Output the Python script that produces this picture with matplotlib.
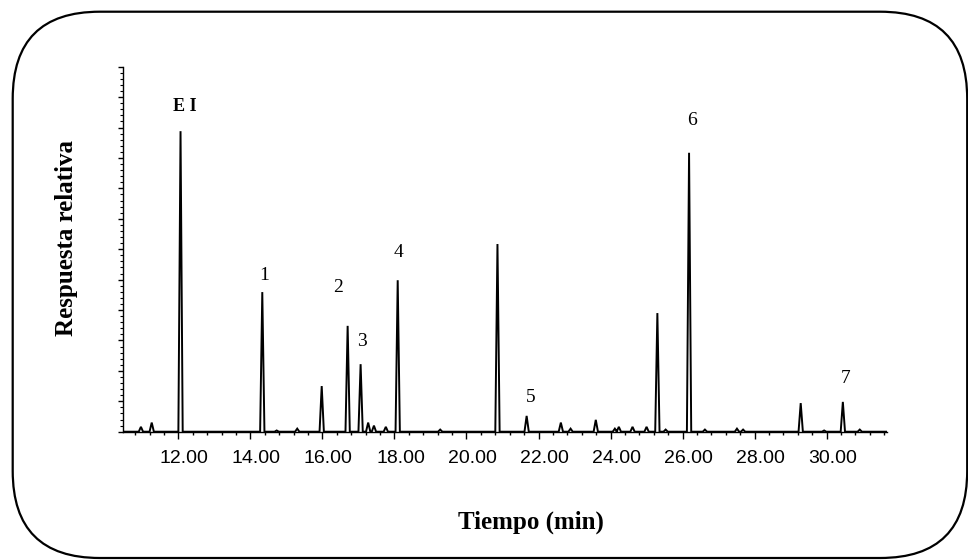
import matplotlib
matplotlib.use("Agg")
import matplotlib.pyplot as plt
import matplotlib.transforms as mtransforms
from matplotlib.patches import FancyBboxPatch
from matplotlib.ticker import MultipleLocator, FormatStrFormatter, NullFormatter

# retention time (min) and relative height of every peak seen in the chromatogram
PEAK_TIMES = [10.96, 11.26, 12.06, 14.33, 14.73, 15.30, 15.98, 16.70, 17.06,
              17.27, 17.43, 17.76, 18.09, 19.27, 20.86, 21.67, 22.62, 22.89,
              23.59, 24.12, 24.23, 24.61, 25.00, 25.30, 25.53, 26.18, 26.62,
              27.51, 27.68, 29.28, 29.93, 30.45, 30.92]
PEAK_HEIGHTS = [1.6, 3.0, 98.8, 45.9, 0.4, 1.0, 15.0, 34.8, 22.2,
                3.0, 2.0, 1.6, 49.8, 0.7, 61.7, 5.2, 3.0, 1.0,
                3.9, 1.0, 1.6, 1.6, 1.6, 39.0, 0.7, 91.7, 0.7,
                1.0, 0.7, 9.4, 0.4, 9.8, 0.7]

# identified compounds: label, x, y
LABELS = ["E I", "1", "2", "3", "4", "5", "6", "7"]
LABEL_X = [12.17, 14.38, 16.43, 17.10, 18.10, 21.77, 26.26, 30.53]
LABEL_Y = [107.0, 51.5, 47.5, 29.8, 59.0, 11.4, 102.4, 17.6]

XMIN, XMAX = 10.45, 31.67
YMAX = 120
HALF_WIDTH = 0.06

SERIF = "Liberation Serif"
SANS = "Liberation Sans"


def build_trace(times, heights, hw):
    xs, ys = [XMIN], [0.0]
    for t, h in sorted(zip(times, heights)):
        xs += [t - hw, t, t + hw]
        ys += [0.0, h, 0.0]
    xs.append(XMAX)
    ys.append(0.0)
    return xs, ys


fig = plt.figure(figsize=(9.68, 5.60), dpi=100)
ax = fig.add_axes([0.1266, 0.2291, 0.7895, 0.6518])

xs, ys = build_trace(PEAK_TIMES, PEAK_HEIGHTS, HALF_WIDTH)
ax.plot(xs, ys, color="black", linewidth=1.4, solid_joinstyle="miter")

for lbl, lx, ly in zip(LABELS, LABEL_X, LABEL_Y):
    bold = lbl == "E I"
    ax.text(lx, ly, lbl, ha="center", va="center", family=SERIF,
            fontsize=13 if bold else 14, fontweight="bold" if bold else "normal")

ax.set_xlim(XMIN, XMAX)
ax.set_ylim(0, YMAX)
for side in ("top", "right"):
    ax.spines[side].set_visible(False)
ax.spines["left"].set_linewidth(1.0)
ax.spines["bottom"].set_linewidth(1.0)

ax.xaxis.set_major_locator(MultipleLocator(2))
ax.xaxis.set_minor_locator(MultipleLocator(0.4))
ax.xaxis.set_major_formatter(FormatStrFormatter("%.2f"))
ax.tick_params(axis="x", which="major", direction="out", length=5, width=1,
               labelsize=14, pad=8)
ax.tick_params(axis="x", which="minor", direction="out", length=2.5, width=1)
for t in ax.get_xticklabels():
    t.set_family(SANS)
shift = mtransforms.ScaledTranslation(6 / 100, 0, fig.dpi_scale_trans)
for t in ax.get_xticklabels():
    t.set_transform(t.get_transform() + shift)

ax.yaxis.set_major_locator(MultipleLocator(10))
ax.yaxis.set_minor_locator(MultipleLocator(2))
ax.yaxis.set_major_formatter(NullFormatter())
ax.tick_params(axis="y", which="major", direction="out", length=3.5, width=1)
ax.tick_params(axis="y", which="minor", direction="out", length=2, width=0.8)

fig.text(0.069, 0.575, "Respuesta relativa", rotation=90, ha="center", va="center",
         family=SERIF, fontsize=18, fontweight="bold")
fig.text(0.548, 0.068, "Tiempo (min)", ha="center", va="center",
         family=SERIF, fontsize=18, fontweight="bold")

# rounded frame around the whole figure (pixel coordinates)
frame = FancyBboxPatch((12.7, 2.0), 954.5, 546.3,
                       boxstyle="round,pad=0,rounding_size=87",
                       transform=mtransforms.IdentityTransform(),
                       facecolor="none", edgecolor="black", linewidth=1.6)
fig.patches.append(frame)

fig.savefig("out.png", dpi=100)
